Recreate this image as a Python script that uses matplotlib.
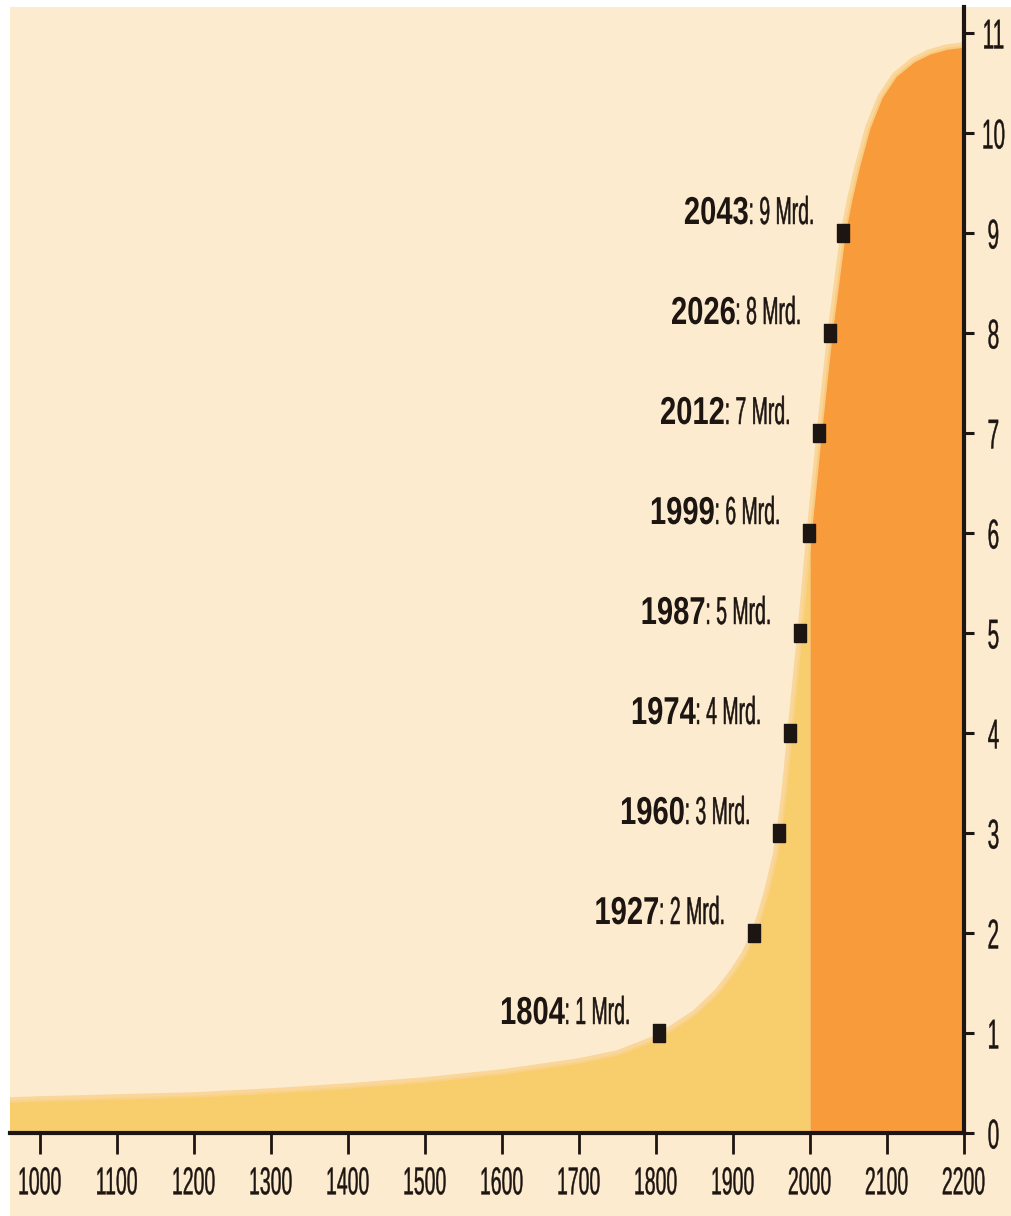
import numpy as np
import matplotlib
matplotlib.use("Agg")
import matplotlib.pyplot as plt
import matplotlib.patheffects as pe
from matplotlib.transforms import Affine2D
from matplotlib.patches import Rectangle

# Weltbevoelkerung in Mrd.
years = [960, 1000, 1100, 1200, 1300, 1400, 1500, 1600, 1700, 1750, 1800, 1850,
         1880, 1900, 1915, 1927, 1935, 1945, 1955, 1960, 1967, 1974, 1987, 1999,
         2000, 2012, 2026, 2043, 2052, 2061, 2075, 2091, 2110, 2134, 2155, 2178, 2200]
pop = [0.33, 0.34, 0.36, 0.38, 0.42, 0.47, 0.53, 0.61, 0.72, 0.80, 0.95, 1.20,
       1.42, 1.62, 1.80, 2.00, 2.18, 2.45, 2.78, 3.00, 3.45, 4.00, 5.00, 6.00,
       6.08, 7.00, 8.00, 9.00, 9.35, 9.65, 10.05, 10.36, 10.58, 10.73, 10.81, 10.86, 10.88]

# Meilensteine
mark_years = [1804, 1927, 1960, 1974, 1987, 1999, 2012, 2026, 2043]
mark_pop = [1, 2, 3, 4, 5, 6, 7, 8, 9]

x_ticks = list(range(1000, 2201, 100))
y_ticks = list(range(0, 12))

BG = '#FCEBCF'
YELLOW = '#F8CD6C'
ORANGE = '#F89B3A'
INK = '#1c1511'


class Condense(pe.AbstractPathEffect):
    """Schmalschrift: Glyphen horizontal stauchen (optional leicht nachziehen)"""
    def __init__(self, sx, anchor=0.5, stroke=0.0):
        super().__init__()
        self.sx = sx
        self.anchor = anchor
        self.stroke = stroke

    def draw_path(self, renderer, gc, tpath, affine, rgbFace=None):
        xs = tpath.vertices[:, 0]
        cx = xs.min() + self.anchor * (xs.max() - xs.min()) if len(xs) else 0
        t = Affine2D().translate(-cx, 0).scale(self.sx, 1).translate(cx, 0) + affine
        if self.stroke and rgbFace is not None:
            gc0 = renderer.new_gc()
            gc0.copy_properties(gc)
            gc0.set_linewidth(self.stroke)
            gc0.set_foreground(rgbFace)
            renderer.draw_path(gc0, tpath, t, rgbFace)
            gc0.restore()
        else:
            renderer.draw_path(gc, tpath, t, rgbFace)


plt.rcParams['font.family'] = ['Liberation Sans', 'DejaVu Sans']

fig = plt.figure(figsize=(10.12, 12.16), dpi=100, facecolor=BG)
# weisser Rand links und oben
fig.add_artist(Rectangle((0, 0), 10 / 1012, 1, transform=fig.transFigure, color='white', lw=0, zorder=-1))
fig.add_artist(Rectangle((0, 1 - 7 / 1216), 1, 7 / 1216, transform=fig.transFigure, color='white', lw=0, zorder=-1))

ax = fig.add_axes([10 / 1012, 83 / 1216, 954 / 1012, 1126 / 1216])
ax.set_facecolor('none')

yrs = np.array(years)
p = np.array(pop)
ax.fill_between(yrs, 0, p, where=yrs <= 2000, color=YELLOW, lw=0)
ax.fill_between(yrs, 0, p, where=yrs >= 2000, color=ORANGE, lw=0)
ax.plot(yrs, p, color='#FAD390', lw=4, alpha=0.85)

box = [(-0.33, -0.5), (0.33, -0.5), (0.33, 0.5), (-0.33, 0.5), (-0.33, -0.5)]
ax.plot(mark_years, mark_pop, ls='none', marker=box, ms=13, color=INK, mec=INK, zorder=4)

for yr, pp in zip(mark_years, mark_pop):
    t = ax.annotate(f": {pp} Mrd.", xy=(yr, pp), xytext=(-27, 9), textcoords='offset pixels',
                    ha='right', va='baseline', fontsize=28, color=INK,
                    path_effects=[Condense(0.5, 1, stroke=0.35)])
    ax.annotate(str(yr), xy=(0.5, 0), xycoords=t, xytext=(-1, 0), textcoords='offset pixels',
                ha='right', va='bottom', fontsize=28, fontweight='bold', color=INK,
                path_effects=[Condense(0.75, 1)])

for s in ['left', 'top']:
    ax.spines[s].set_visible(False)
for s in ['right', 'bottom']:
    ax.spines[s].set_color(INK)
    ax.spines[s].set_linewidth(3)

ax.set_xlim(961, 2200)
ax.set_ylim(0, 11.26)
ax.set_xticks(x_ticks)
ax.set_yticks(y_ticks)
ax.tick_params(axis='x', direction='out', length=15, width=2, color=INK,
               labelsize=28, labelcolor=INK, pad=9)
ax.yaxis.tick_right()
ax.tick_params(axis='y', direction='out', length=7.5, width=2.2, color=INK,
               labelsize=30, labelcolor=INK, pad=14)
for tk in ax.xaxis.get_major_ticks():
    tk.label1.set_path_effects([Condense(0.5, 0.5, stroke=0.3)])
for tk in ax.yaxis.get_major_ticks():
    tk.label2.set_path_effects([Condense(0.5, 0.5, stroke=0.3)])
    tk.label2.set_horizontalalignment('center')

fig.savefig('out.png', dpi=100, facecolor=BG)
